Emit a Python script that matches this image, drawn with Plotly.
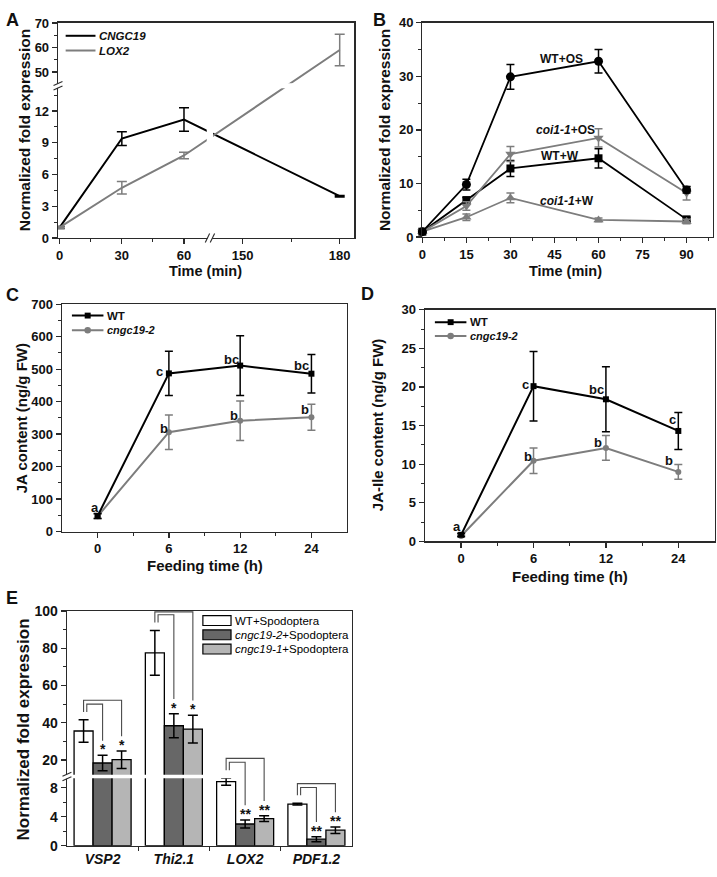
import plotly.graph_objects as go

W, H = 717, 877
FONT = "Liberation Sans, Arial, Helvetica, sans-serif"
BLACK = "#000000"
GRAY = "#7d7d7d"
DARKBAR = "#676767"
LIGHTBAR = "#b5b5b5"
AXC = "#2a2a2a"
TXT = "#111111"

# ---------------- Panel A: CNGC19 / LOX2 expression ----------------
a_time = [0, 30, 60, 180]
a_cngc19 = [1.0, 9.4, 11.2, 3.95]
a_cngc19_err = [0.1, 0.65, 1.1, 0.08]
a_lox2 = [1.0, 4.75, 7.8, 59.0]
a_lox2_err = [0.1, 0.6, 0.3, 6.4]
a_xticks = [0, 30, 60, 150, 180]
a_xminor = [15, 45, 165]
a_yticks = [0, 3, 6, 9, 12, 50, 60, 70]
a_yminor = [1.5, 4.5, 7.5, 10.5, 13.5, 55, 65]

# ---------------- Panel B: WT / coi1-1 time course ----------------
b_time = [0, 15, 30, 60, 90]
b_wt_os = [1.0, 9.8, 29.9, 32.8, 8.8]
b_wt_os_err = [0.15, 1.0, 2.3, 2.2, 0.6]
b_coi_os = [1.0, 5.8, 15.5, 18.5, 8.2]
b_coi_os_err = [0.15, 0.8, 1.4, 1.7, 1.3]
b_wt_w = [1.0, 6.9, 12.8, 14.7, 3.3]
b_wt_w_err = [0.15, 0.5, 1.5, 1.8, 0.4]
b_coi_w = [1.0, 3.7, 7.3, 3.2, 2.9]
b_coi_w_err = [0.15, 0.6, 0.9, 0.35, 0.4]
b_xticks = [0, 15, 30, 45, 60, 75, 90]
b_xminor = [7.5, 22.5, 37.5, 52.5, 67.5, 82.5, 97.5]
b_yticks = [0, 10, 20, 30, 40]
b_yminor = [5, 15, 25, 35]

# ---------------- Panels C / D: JA and JA-Ile ----------------
feed_labels = ["0", "6", "12", "24"]
c_wt = [48, 487, 511, 486]
c_wt_err = [8, 68, 92, 59]
c_mut = [47, 306, 341, 352]
c_mut_err = [7, 53, 61, 40]
c_wt_letters = ["a", "c", "bc", "bc"]
c_mut_letters = ["", "b", "b", "b"]
c_yticks = [0, 100, 200, 300, 400, 500, 600, 700]
c_yminor = [50, 150, 250, 350, 450, 550, 650]

d_wt = [0.85, 20.1, 18.4, 14.3]
d_wt_err = [0.2, 4.5, 4.2, 2.4]
d_mut = [0.7, 10.45, 12.1, 9.0]
d_mut_err = [0.15, 1.65, 1.6, 0.95]
d_wt_letters = ["a", "c", "bc", "c"]
d_mut_letters = ["", "b", "b", "b"]
d_yticks = [0, 5, 10, 15, 20, 25, 30]
d_yminor = [2.5, 7.5, 12.5, 17.5, 22.5, 27.5]

# ---------------- Panel E: marker genes after Spodoptera feeding ----------------
e_genes = ["VSP2", "Thi2.1", "LOX2", "PDF1.2"]
e_wt = [35.6, 77.6, 8.85, 5.75]
e_wt_err = [6.0, 12.0, 0.5, 0.12]
e_c2 = [18.4, 38.4, 3.0, 0.9]
e_c2_err = [4.1, 6.5, 0.55, 0.35]
e_c1 = [20.2, 36.6, 3.75, 2.15]
e_c1_err = [4.7, 7.4, 0.4, 0.45]
e_c2_stars = ["*", "*", "**", "**"]
e_c1_stars = ["*", "*", "**", "**"]
e_yticks = [0, 4, 8, 20, 40, 60, 80, 100]
e_yminor = [2, 6, 30, 50, 70, 90]

# ---------------- geometry (frames in px: left, right, top, bottom) ----------------
FR = {
    "A": (54.3, 352.3, 15.0, 234.3),
    "B": (420.7, 713.0, 15.0, 233.3),
    "C": (58.3, 345.0, 301.7, 533.3),
    "D": (423.3, 714.5, 307.3, 543.3),
    "E": (63.3, 350.0, 614.3, 853.3),
}


def px(x):
    return x / W


def py(y):
    return 1 - y / H


# broken-axis transforms (display units = pixels)
def ax(v):  # panel A time axis, break between ~72 and 140 min
    return v * 2.0833 if v <= 100 else 183.9 + (v - 150) * 3.256


def ay(v):  # panel A expression axis, break between ~14.4 and 44.4
    return v * 10.78 if v <= 30 else 169.0 + (v - 50) * 2.5


def ey(v):  # panel E expression axis, break between ~9.4 and 11.9
    return v * 7.375 if v <= 10.5 else 87.3 + (v - 20) * 1.896


A_XRANGE = [-1.7, FR["A"][1] - FR["A"][0] - 1.7]
A_YRANGE = [0, FR["A"][3] - FR["A"][2]]
E_YRANGE = [0, FR["E"][3] - FR["E"][2]]


def tf_err(f, vals, errs):
    plus = [f(v + e) - f(v) for v, e in zip(vals, errs)]
    minus = [f(v) - f(v - e) for v, e in zip(vals, errs)]
    return plus, minus


def eb(plus, minus=None, color=BLACK, width=5):
    d = dict(type="data", array=plus, color=color, thickness=1.5, width=width, visible=True)
    if minus is not None:
        d["symmetric"] = False
        d["arrayminus"] = minus
    return d


fig = go.Figure()
shapes, annotations = [], []

# ---- Panel A traces
for vals, errs, col, nm in [(a_cngc19, a_cngc19_err, BLACK, "CNGC19"),
                            (a_lox2, a_lox2_err, GRAY, "LOX2")]:
    p, m = tf_err(ay, vals, errs)
    fig.add_trace(go.Scatter(
        x=[ax(t) for t in a_time], y=[ay(v) for v in vals], mode="lines", name=nm,
        line=dict(color=col, width=2), error_y=eb(p, m, col, 5),
        xaxis="x", yaxis="y", showlegend=False, cliponaxis=False))

# ---- Panel B traces
for vals, errs, col, sym, size, nm in [
    (b_wt_w, b_wt_w_err, BLACK, "square", 8, "WT+W"),
    (b_coi_w, b_coi_w_err, GRAY, "triangle-up", 9, "coi1-1+W"),
    (b_coi_os, b_coi_os_err, GRAY, "triangle-down", 9, "coi1-1+OS"),
    (b_wt_os, b_wt_os_err, BLACK, "circle", 9, "WT+OS"),
]:
    fig.add_trace(go.Scatter(
        x=b_time, y=vals, mode="lines+markers", name=nm,
        line=dict(color=col, width=1.8), marker=dict(color=col, symbol=sym, size=size),
        error_y=eb(errs, None, col, 4), xaxis="x2", yaxis="y2", showlegend=False, cliponaxis=False))

# ---- Panels C and D traces
cat = [0, 1, 2, 3]
for (wt, wte, mut, mute, xa, ya) in [(c_wt, c_wt_err, c_mut, c_mut_err, "x3", "y3"),
                                     (d_wt, d_wt_err, d_mut, d_mut_err, "x4", "y4")]:
    fig.add_trace(go.Scatter(
        x=cat, y=mut, mode="lines+markers", name="cngc19-2",
        line=dict(color=GRAY, width=2), marker=dict(color=GRAY, symbol="circle", size=6),
        error_y=eb(mute, None, GRAY, 4), xaxis=xa, yaxis=ya, showlegend=False, cliponaxis=False))
    fig.add_trace(go.Scatter(
        x=cat, y=wt, mode="lines+markers", name="WT",
        line=dict(color=BLACK, width=2), marker=dict(color=BLACK, symbol="square", size=6),
        error_y=eb(wte, None, BLACK, 4), xaxis=xa, yaxis=ya, showlegend=False, cliponaxis=False))

# ---- Panel E bars
e_series = [(e_wt, e_wt_err, "white", "WT+Spodoptera"),
            (e_c2, e_c2_err, DARKBAR, "cngc19-2+Spodoptera"),
            (e_c1, e_c1_err, LIGHTBAR, "cngc19-1+Spodoptera")]
for vals, errs, col, nm in e_series:
    p, m = tf_err(ey, vals, errs)
    fig.add_trace(go.Bar(
        x=cat, y=[ey(v) for v in vals], name=nm,
        marker=dict(color=col, line=dict(color=BLACK, width=1.3)),
        error_y=eb(p, m, BLACK, 5), xaxis="x5", yaxis="y5", showlegend=False))


# ---------------- axes ----------------
def base_axis(**kw):
    d = dict(showline=True, linecolor=AXC, linewidth=1.3, mirror=True, ticks="outside",
             ticklen=5, tickwidth=1.3, tickcolor=AXC, showgrid=False, zeroline=False,
             tickfont=dict(family=FONT, size=13, color=TXT, weight="bold"),
             fixedrange=True)
    d.update(kw)
    return d


def minor(vals, length=3):
    return dict(tickmode="array", tickvals=vals, ticks="outside", ticklen=length,
                tickwidth=1, tickcolor=AXC, showgrid=False)


def dom(key):
    l, r, t, b = FR[key]
    return [px(l), min(px(r), 1.0)], [py(b), py(t)]


layout = dict(width=W, height=H, margin=dict(l=0, r=0, t=0, b=0), autosize=False,
              paper_bgcolor="white", plot_bgcolor="white", barmode="group",
              bargap=0.2, bargroupgap=0, showlegend=False, hovermode=False,
              font=dict(family=FONT, color=TXT))

dx, dy = dom("A")
layout["xaxis"] = base_axis(domain=dx, anchor="y", range=A_XRANGE, tickmode="array",
                            tickvals=[ax(v) for v in a_xticks], ticktext=[str(v) for v in a_xticks],
                            minor=minor([ax(v) for v in a_xminor]))
layout["yaxis"] = base_axis(domain=dy, anchor="x", range=A_YRANGE, tickmode="array",
                            tickvals=[ay(v) for v in a_yticks], ticktext=[str(v) for v in a_yticks],
                            minor=minor([ay(v) for v in a_yminor]))
dx, dy = dom("B")
layout["xaxis2"] = base_axis(domain=dx, anchor="y2", range=[0, 99], tickmode="array",
                             tickvals=b_xticks, ticktext=[str(v) for v in b_xticks], minor=minor(b_xminor))
layout["yaxis2"] = base_axis(domain=dy, anchor="x2", range=[0, 40], tickmode="array",
                             tickvals=b_yticks, ticktext=[str(v) for v in b_yticks], minor=minor(b_yminor))
dx, dy = dom("C")
layout["xaxis3"] = base_axis(domain=dx, anchor="y3", range=[-0.5, 3.5], tickmode="array",
                             tickvals=cat, ticktext=feed_labels, minor=minor([0.5, 1.5, 2.5]))
layout["yaxis3"] = base_axis(domain=dy, anchor="x3", range=[0, 700], tickmode="array",
                             tickvals=c_yticks, ticktext=[str(v) for v in c_yticks], minor=minor(c_yminor))
dx, dy = dom("D")
layout["xaxis4"] = base_axis(domain=dx, anchor="y4", range=[-0.5, 3.5], tickmode="array",
                             tickvals=cat, ticktext=feed_labels, minor=minor([0.5, 1.5, 2.5]))
layout["yaxis4"] = base_axis(domain=dy, anchor="x4", range=[0, 30], tickmode="array",
                             tickvals=d_yticks, ticktext=[str(v) for v in d_yticks], minor=minor(d_yminor))
dx, dy = dom("E")
layout["xaxis5"] = base_axis(domain=dx, anchor="y5", range=[-0.5, 3.5], tickmode="array",
                             tickvals=cat, ticktext=[f"<i>{g}</i>" for g in e_genes], ticks="",
                             tickfont=dict(family=FONT, size=14, color=TXT, weight="bold"),
                             minor=minor([0.5, 1.5, 2.5], 4))
layout["yaxis5"] = base_axis(domain=dy, anchor="x5", range=E_YRANGE, tickmode="array",
                             tickvals=[ey(v) for v in e_yticks], ticktext=[str(v) for v in e_yticks],
                             tickfont=dict(family=FONT, size=14, color=TXT, weight="bold"),
                             minor=minor([ey(v) for v in e_yminor]))

# ---------------- axis breaks ----------------
A_XBRK = (ax(72.4) + ax(140)) / 2
A_YBRK = (ay(14.4) + ay(44.4)) / 2
E_YBRK = (ey(9.35) + ey(11.9)) / 2

shapes.append(dict(type="rect", xref="x", yref="y", x0=A_XBRK - 3.2, x1=A_XBRK + 3.2,
                   y0=1.5, y1=A_YRANGE[1] - 1.5, fillcolor="white", line=dict(width=0), layer="above"))
shapes.append(dict(type="rect", xref="x", yref="y", x0=A_XRANGE[0] + 1.2, x1=A_XRANGE[1] - 1.2,
                   y0=A_YBRK - 2.5, y1=A_YBRK + 2.5, fillcolor="white", line=dict(width=0), layer="above"))
shapes.append(dict(type="rect", xref="x5", yref="y5", x0=-0.488, x1=3.488,
                   y0=E_YBRK - 1.8, y1=E_YBRK + 1.8, fillcolor="white", line=dict(width=0), layer="above"))


def ybreak_mark(xp, yp):
    shapes.append(dict(type="rect", xref="paper", yref="paper", x0=px(xp - 2), x1=px(xp + 2),
                       y0=py(yp + 2.2), y1=py(yp - 2.2), fillcolor="white", line=dict(width=0), layer="above"))
    for off in (-2.3, 2.3):
        shapes.append(dict(type="line", xref="paper", yref="paper",
                           x0=px(xp - 4.5), y0=py(yp + off + 2.0), x1=px(xp + 4.5), y1=py(yp + off - 2.0),
                           line=dict(color=AXC, width=1.1), layer="above"))


def xbreak_mark(xp, yp):
    shapes.append(dict(type="rect", xref="paper", yref="paper", x0=px(xp - 2.3), x1=px(xp + 2.3),
                       y0=py(yp + 2), y1=py(yp - 2), fillcolor="white", line=dict(width=0), layer="above"))
    for off in (-2.5, 2.5):
        shapes.append(dict(type="line", xref="paper", yref="paper",
                           x0=px(xp + off - 2.2), y0=py(yp + 4.5), x1=px(xp + off + 2.2), y1=py(yp - 4.5),
                           line=dict(color=AXC, width=1.1), layer="above"))


ybreak_mark(FR["A"][0], FR["A"][3] - A_YBRK)
xbreak_mark(FR["A"][0] + (A_XBRK - A_XRANGE[0]), FR["A"][3])
ybreak_mark(FR["E"][0], FR["E"][3] - E_YBRK)

# ---------------- significance brackets & stars (panel E) ----------------
BW = 0.8 / 3
for g in range(4):
    wt_top = ey(e_wt[g] + e_wt_err[g])
    c2_top = ey(e_c2[g] + e_c2_err[g])
    c1_top = ey(e_c1[g] + e_c1_err[g])
    lb = wt_top + 8
    t_in = lb + 8
    t_out = min(t_in + 4, E_YRANGE[1] - 0.8)
    rb_c2 = c2_top + 15
    rb_c1 = c1_top + 15
    xl = g - BW
    path_out = f"M {xl},{lb} L {xl},{t_out} L {g + BW},{t_out} L {g + BW},{rb_c1}"
    path_in = f"M {xl + 0.045},{lb} L {xl + 0.045},{t_in} L {g},{t_in} L {g},{rb_c2}"
    for pth in (path_out, path_in):
        shapes.append(dict(type="path", xref="x5", yref="y5", path=pth,
                           line=dict(color="#4a4a4a", width=1.1), layer="above"))
    for xc, top, s in [(g, c2_top, e_c2_stars[g]), (g + BW, c1_top, e_c1_stars[g])]:
        annotations.append(dict(x=xc, y=top, xref="x5", yref="y5", text=s, showarrow=False,
                                yshift=6, font=dict(family=FONT, size=14, color=TXT, weight="bold")))

# ---------------- letters (panels C, D) ----------------
LET_FONT = dict(family=FONT, size=13, color=TXT, weight="bold")
c_wt_shift = [(-3, 8), (-9, 2), (-9, 6), (-10, 8)]
c_mut_shift = [(0, 0), (-5, 4), (-6, 5), (-6, 8)]
d_wt_shift = [(-4, 8), (-8, 2), (-9, 10), (-6, 11)]
d_mut_shift = [(0, 0), (-6, 4), (-8, 5), (-9, 11)]
for vals, letters, shifts, xa, ya in [
    (c_wt, c_wt_letters, c_wt_shift, "x3", "y3"), (c_mut, c_mut_letters, c_mut_shift, "x3", "y3"),
    (d_wt, d_wt_letters, d_wt_shift, "x4", "y4"), (d_mut, d_mut_letters, d_mut_shift, "x4", "y4")]:
    for i, (v, l) in enumerate(zip(vals, letters)):
        if l:
            annotations.append(dict(x=i, y=v, xref=xa, yref=ya, text=l, showarrow=False,
                                    xshift=shifts[i][0], yshift=shifts[i][1], font=LET_FONT))

# ---------------- curve labels (panel B) ----------------
LAB_FONT = dict(family=FONT, size=12, color=TXT, weight="bold")
for txt, xv, yv in [("WT+OS", 47.3, 33.2), ("<i>coi1-1</i>+OS", 48.9, 20.0),
                    ("WT+W", 46.8, 15.1), ("<i>coi1-1</i>+W", 49.4, 6.7)]:
    annotations.append(dict(x=xv, y=yv, xref="x2", yref="y2", text=txt, showarrow=False, font=LAB_FONT))


# ---------------- manual legends ----------------
def legend_line(x0, x1, y, color, text, size, marker=None):
    shapes.append(dict(type="line", xref="paper", yref="paper", x0=px(x0), x1=px(x1),
                       y0=py(y), y1=py(y), line=dict(color=color, width=2)))
    xc = (x0 + x1) / 2
    if marker == "square":
        shapes.append(dict(type="rect", xref="paper", yref="paper", x0=px(xc - 3), x1=px(xc + 3),
                           y0=py(y + 3), y1=py(y - 3), fillcolor=color, line=dict(width=0)))
    elif marker == "circle":
        shapes.append(dict(type="circle", xref="paper", yref="paper", x0=px(xc - 3.3), x1=px(xc + 3.3),
                           y0=py(y + 3.3), y1=py(y - 3.3), fillcolor=color, line=dict(width=0)))
    annotations.append(dict(x=px(x1 + 2), y=py(y), xref="paper", yref="paper", text=text,
                            xanchor="left", yanchor="middle", showarrow=False,
                            font=dict(family=FONT, size=size, color=TXT, weight="bold")))


legend_line(62, 92, 28.3, BLACK, "<i>CNGC19</i>", 11.5)
legend_line(62, 92, 43.3, GRAY, "<i>LOX2</i>", 11.5)
legend_line(68.3, 100, 313.3, BLACK, "WT", 11.5, "square")
legend_line(68.3, 100, 328.3, GRAY, "<i>cngc19-2</i>", 11, "circle")
legend_line(433.3, 465, 320, BLACK, "WT", 11.5, "square")
legend_line(433.3, 465, 334, GRAY, "<i>cngc19-2</i>", 11, "circle")

for (vals, errs, col, nm), yc in zip(e_series, [624, 638.5, 653]):
    shapes.append(dict(type="rect", xref="paper", yref="paper", x0=px(200), x1=px(228.3),
                       y0=py(yc + 5), y1=py(yc - 5), fillcolor=col, line=dict(color=BLACK, width=1.2)))
    label = nm if nm.startswith("WT") else f"<i>{nm.split('+')[0]}</i>+Spodoptera"
    annotations.append(dict(x=px(230), y=py(yc), xref="paper", yref="paper", text=label,
                            xanchor="left", yanchor="middle", showarrow=False,
                            font=dict(family=FONT, size=11.5, color=BLACK)))

# ---------------- panel letters & axis titles ----------------
for t, x, y in [("A", 9, 12), ("B", 377.5, 12), ("C", 9, 292), ("D", 366, 291), ("E", 8, 601)]:
    annotations.append(dict(x=px(x), y=py(y), xref="paper", yref="paper", text=t, showarrow=False,
                            xanchor="center", yanchor="middle", borderpad=0,
                            font=dict(family=FONT, size=18, color=TXT, weight="bold")))

for t, x, y, ang, size in [
    ("Normalized fold expression", 20, 124.6, -90, 15.5),
    ("Normalized fold expression", 383.3, 124.2, -90, 15.5),
    ("JA content (ng/g FW)", 17, 418, -90, 15),
    ("JA-Ile content (ng/g FW)", 375, 425, -90, 15),
    ("Normalized fold expression", 20, 735, -90, 17),
    ("Time (min)", 203, 268, 0, 14.5),
    ("Time (min)", 565, 268, 0, 14.5),
    ("Feeding time (h)", 202, 568, 0, 15),
    ("Feeding time (h)", 569, 579, 0, 15),
]:
    annotations.append(dict(x=px(x), y=py(y), xref="paper", yref="paper", text=t, showarrow=False,
                            textangle=ang, xanchor="center", yanchor="middle",
                            font=dict(family=FONT, size=size, color=TXT, weight="bold")))

layout["shapes"] = shapes
layout["annotations"] = annotations
fig.update_layout(**layout)
# remove the browser's default 8px body margin so the figure sits at the page origin
fig.write_html("out.html", config={"displayModeBar": False, "staticPlot": True},
               post_script="document.body.style.margin='0px';")
